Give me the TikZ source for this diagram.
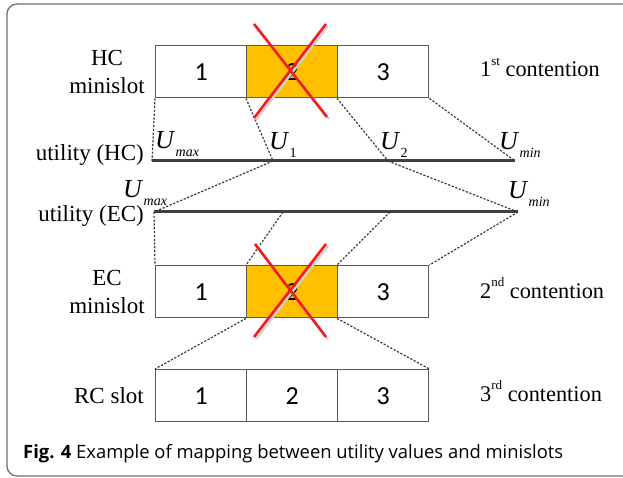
\documentclass[tikz,border=0pt]{standalone}
\usepackage{fontspec}
\setmainfont{Liberation Serif}
\newfontfamily\capfont{Open Sans}
\newfontfamily\numfont{Carlito}
\definecolor{boxgray}{HTML}{595959}
\definecolor{gold}{HTML}{FFC000}
\definecolor{xred}{HTML}{F21C1C}
\definecolor{dotgray}{HTML}{3A3A3A}
\definecolor{framegray}{HTML}{6E6E6E}
\definecolor{linegray}{HTML}{404040}
\newcommand{\Ulab}[1]{\textit{U}\kern0.01em\raisebox{-0.3em}{\fontsize{14}{14}\selectfont #1}}
\newcommand{\sups}[1]{\raisebox{0.5em}{\fontsize{13}{13}\selectfont #1}}
\begin{document}
\begin{tikzpicture}[x=1pt,y=-1pt,
  slot/.style={draw=boxgray, line width=1.4pt, minimum width=91pt, minimum height=52pt,
    inner sep=0pt, anchor=north west, font=\numfont\fontsize{26}{26}\selectfont},
  hot/.style={slot, fill=gold},
  lbl/.style={font=\fontsize{23}{28}\selectfont, inner sep=0pt},
  clbl/.style={font=\fontsize{22.3}{28}\selectfont, inner sep=0pt, anchor=base west},
  ulbl/.style={font=\fontsize{26}{26}\selectfont, inner sep=0pt, anchor=base west},
  util/.style={draw=linegray, line width=3pt},
  mapline/.style={draw=dotgray, line width=1.2pt, dash pattern=on 2.2pt off 1.6pt},
  cross/.style={draw=xred, line width=2.6pt},
  xshadow/.style={draw=black!18, line width=2.2pt},
  capt/.style={font=\capfont\fontsize{18.4}{22}\selectfont, inner sep=0pt, anchor=base west}]
\useasboundingbox (0,0) rectangle (623,478);
% frame
\draw[framegray, line width=1.3pt, rounded corners=10pt] (7,4) rectangle (660,476);

% utility lines
\coordinate (hmax) at (152,161);
\coordinate (hu1) at (273,161);
\coordinate (hu2) at (388,161);
\coordinate (hmin) at (515,161);
\coordinate (emax) at (154,212);
\coordinate (eu1) at (283,212);
\coordinate (eu2) at (390,212);
\coordinate (emin) at (518,212);
\draw[util] (hmax) -- (hmin);
\draw[util] (emax) -- (emin);

% HC row
\node[slot] (h1) at (155,45) {1};
\node[hot] (h2) at (246,45) {2};
\node[slot] (h3) at (337,45) {3};
% EC row
\node[slot] (e1) at (155,265) {1};
\node[hot] (e2) at (246,265) {2};
\node[slot] (e3) at (337,265) {3};
% RC row
\node[slot] (r1) at (155,369) {1};
\node[slot] (r2) at (246,369) {2};
\node[slot] (r3) at (337,369) {3};

% mapping lines
\draw[mapline] (h1.south west) -- (hmax);
\draw[mapline] (h2.south west) -- (hu1);
\draw[mapline] (h3.south west) -- (hu2);
\draw[mapline] (h3.south east) -- (hmin);
\draw[mapline] (hu1) -- (emax);
\draw[mapline] (hu2) -- (emin);
\draw[mapline] (emax) -- (e1.north west);
\draw[mapline] (eu1) -- (e2.north west);
\draw[mapline] (eu2) -- (e3.north west);
\draw[mapline] (emin) -- (e3.north east);
\draw[mapline] (e2.south west) -- (r1.north west);
\draw[mapline] (e3.south west) -- (r3.north east);

% crosses
\draw[xshadow] (256,26) -- (329,119);
\draw[xshadow] (328,26) -- (256,120);
\draw[cross] (254,24) -- (327,117);
\draw[cross] (326,24) -- (254,118);
\draw[xshadow] (257,246) -- (328,339);
\draw[xshadow] (328,246) -- (256,339);
\draw[cross] (255,244) -- (326,337);
\draw[cross] (326,244) -- (254,337);

% left labels
\node[lbl, anchor=base] (hcl) at (107,66) {HC};
\node[lbl, anchor=base] (hcm) at (107,94) {minislot};
\node[lbl, anchor=base east] (uhc) at (144,161) {utility (HC)};
\node[lbl, anchor=base east] (uec) at (144,222) {utility (EC)};
\node[lbl, anchor=base] (ecl) at (107,285) {EC};
\node[lbl, anchor=base] (ecm) at (107,313) {minislot};
\node[lbl, anchor=base east] (rcl) at (144,403) {RC slot};

% utility labels
\node[ulbl] (lhmax) at (155,149) {\Ulab{\itshape max}};
\node[ulbl] (lhu1) at (269,150) {\Ulab{1}};
\node[ulbl] (lhu2) at (380,150) {\Ulab{2}};
\node[ulbl] (lhmin) at (499,150) {\Ulab{\itshape min}};
\node[ulbl] (lemax) at (123,198) {\Ulab{\itshape max}};
\node[ulbl] (lemin) at (508,199) {\Ulab{\itshape min}};

% contention labels
\node[clbl] (c1) at (480,77) {1\sups{st} contention};
\node[clbl] (c2) at (480,298) {2\sups{nd} contention};
\node[clbl] (c3) at (480,401) {3\sups{rd} contention};

% caption
\node[capt] (cap) at (23,458) {\textbf{Fig. 4} Example of mapping between utility values and minislots};
\end{tikzpicture}
\end{document}
